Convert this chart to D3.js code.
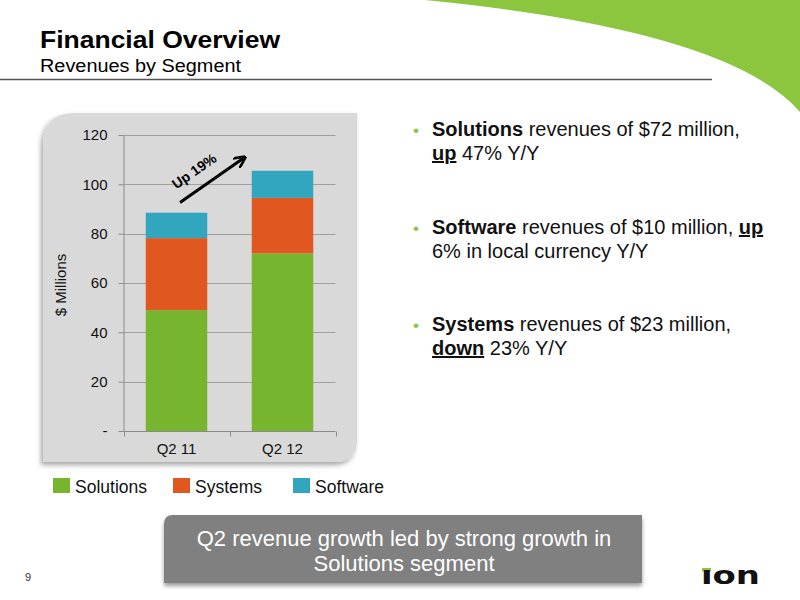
<!DOCTYPE html>
<html>
<head>
<meta charset="utf-8">
<script src="https://cdn.jsdelivr.net/npm/d3@7"></script>
<style>
  body { margin: 0; background: #fff; }
  svg { display: block; font-family: "Liberation Sans", Arial, sans-serif; }
</style>
</head>
<body>
<svg id="chart" width="800" height="600"></svg>
<script>
// ---- Data ----
const categories = ["Q2 11", "Q2 12"];
const segments = ["Solutions", "Systems", "Software"];
const solutions = [49, 72];
const systems = [29.2, 22.5];
const software = [10.3, 11];
const yTicks = [0, 20, 40, 60, 80, 100, 120];
const yTickLabels = ["-", "20", "40", "60", "80", "100", "120"];
const segColors = ["#77b52f", "#e0571f", "#32a6bf"];

const bullets = [
  [[{t: "Solutions", b: true}, {t: " revenues of $72 million,"}], [{t: "up", b: true, u: true}, {t: " 47% Y/Y"}]],
  [[{t: "Software", b: true}, {t: " revenues of $10 million, "}, {t: "up", b: true, u: true}], [{t: "6% in local currency Y/Y"}]],
  [[{t: "Systems", b: true}, {t: " revenues of $23 million,"}], [{t: "down", b: true, u: true}, {t: " 23% Y/Y"}]]
];

const svg = d3.select("#chart");
const defs = svg.append("defs");
const sh = defs.append("filter").attr("id", "shadow").attr("x", "-10%").attr("y", "-10%").attr("width", "125%").attr("height", "125%");
sh.append("feDropShadow").attr("dx", -2).attr("dy", 3).attr("stdDeviation", 2.5).attr("flood-color", "#000").attr("flood-opacity", 0.35);
const sh2 = defs.append("filter").attr("id", "shadow2").attr("x", "-10%").attr("y", "-10%").attr("width", "125%").attr("height", "140%");
sh2.append("feDropShadow").attr("dx", 0).attr("dy", 3).attr("stdDeviation", 2).attr("flood-color", "#000").attr("flood-opacity", 0.4);

// Green swoosh top right
svg.append("path")
  .attr("d", "M425,0 L800,0 L800,112 Q730,30 425,0 Z")
  .attr("fill", "#8cc63f");

// Title
svg.append("text").attr("x", 40).attr("y", 48).attr("font-size", 24).attr("font-weight", "bold")
  .attr("fill", "#000").attr("textLength", 240).attr("lengthAdjust", "spacingAndGlyphs").text("Financial Overview");
svg.append("text").attr("x", 40).attr("y", 72).attr("font-size", 18).attr("fill", "#000")
  .attr("textLength", 201).attr("lengthAdjust", "spacingAndGlyphs").text("Revenues by Segment");
svg.append("line").attr("x1", 0).attr("x2", 712).attr("y1", 79.5).attr("y2", 79.5)
  .attr("stroke", "#555").attr("stroke-width", 1.5);

// Gray panel with rounded top-left and bottom-right corners
const px0 = 43, py0 = 113, px1 = 357, py1 = 462, r1 = 32, r2 = 22;
svg.append("path")
  .attr("d", `M${px0},${py0 + r1} Q${px0},${py0} ${px0 + r1},${py0} L${px1},${py0} L${px1},${py1 - r2} Q${px1},${py1} ${px1 - r2},${py1} L${px0},${py1} Z`)
  .attr("fill", "#d9d9d9").attr("filter", "url(#shadow)");

// Scales
const x = d3.scaleBand().domain(categories).range([123.5, 335.5]).paddingInner(0.42).paddingOuter(0.21);
const y = d3.scaleLinear().domain([0, 120]).range([431, 135]);

// Gridlines
svg.append("g").selectAll("line").data(yTicks.filter(d => d > 0)).join("line")
  .attr("x1", 123.5).attr("x2", 335.5)
  .attr("y1", d => Math.round(y(d)) + 0.5).attr("y2", d => Math.round(y(d)) + 0.5)
  .attr("stroke", "#a0a0a0").attr("stroke-width", 1);

// Stacked bars
const table = categories.map((c, i) => ({cat: c, Solutions: solutions[i], Systems: systems[i], Software: software[i]}));
const stack = d3.stack().keys(segments)(table);
svg.append("g").selectAll("g").data(stack).join("g")
  .attr("fill", (d, i) => segColors[i])
  .selectAll("rect").data(d => d).join("rect")
  .attr("x", d => x(d.data.cat))
  .attr("width", x.bandwidth())
  .attr("y", d => y(d[1]))
  .attr("height", d => y(d[0]) - y(d[1]));

// Y axis
const yAxis = d3.axisLeft(y).tickValues(yTicks).tickFormat((d, i) => yTickLabels[i]).tickSize(5).tickSizeOuter(0);
const gy = svg.append("g").attr("transform", "translate(123.5,0)").call(yAxis);
gy.select(".domain").attr("stroke", "#8a8a8a");
gy.selectAll(".tick line").attr("stroke", "#8a8a8a");
gy.selectAll(".tick text").attr("font-size", 15).attr("fill", "#111").attr("x", -16).attr("font-family", "Liberation Sans, Arial, sans-serif");

// X axis
const xb = d3.scaleLinear().domain([0, 2]).range([123.5, 335.5]);
const gx = svg.append("g").attr("transform", "translate(0,431.5)");
gx.append("line").attr("x1", 123.5).attr("x2", 335.5).attr("stroke", "#8a8a8a");
gx.selectAll("line.tk").data([0, 1, 2]).join("line").attr("class", "tk")
  .attr("x1", d => Math.round(xb(d)) + 0.5).attr("x2", d => Math.round(xb(d)) + 0.5)
  .attr("y1", 0).attr("y2", 5).attr("stroke", "#8a8a8a");
gx.selectAll("text").data(categories).join("text")
  .attr("x", d => x(d) + x.bandwidth() / 2).attr("y", 22)
  .attr("text-anchor", "middle").attr("font-size", 15).attr("fill", "#111").text(d => d);

// Y label
svg.append("text").attr("transform", "translate(66,285) rotate(-90)")
  .attr("text-anchor", "middle").attr("font-size", 15).attr("fill", "#111").text("$ Millions");

// Arrow "Up 19%"
defs.append("marker").attr("id", "arrowhead").attr("viewBox", "0 0 10 10").attr("refX", 7).attr("refY", 5)
  .attr("markerWidth", 4).attr("markerHeight", 4).attr("orient", "auto")
  .append("path").attr("d", "M0,0 L10,5 L0,10").attr("fill", "none").attr("stroke", "#000").attr("stroke-width", 2.2);
svg.append("line").attr("x1", 180).attr("y1", 202.5).attr("x2", 243).attr("y2", 158.5)
  .attr("stroke", "#000").attr("stroke-width", 3).attr("marker-end", "url(#arrowhead)");
svg.append("text").attr("transform", "translate(197,175) rotate(-35)")
  .attr("text-anchor", "middle").attr("font-size", 14).attr("font-weight", "bold").attr("fill", "#000").text("Up 19%");

// Legend
const legX = [53, 173, 293];
const lg = svg.append("g").selectAll("g").data(segments).join("g")
  .attr("transform", (d, i) => `translate(${legX[i]},478)`);
lg.append("rect").attr("width", 17).attr("height", 15).attr("fill", (d, i) => segColors[i]);
lg.append("text").attr("x", 22).attr("y", 14.5).attr("font-size", 17.5).attr("fill", "#111").text(d => d);

// Bullets
const bulletY = [136, 234, 331];
const lineH = 24;
bullets.forEach((lines, bi) => {
  svg.append("text").attr("x", 413).attr("y", bulletY[bi]).attr("font-size", 17).attr("fill", "#8cc63f").text("•");
  lines.forEach((runs, li) => {
    const t = svg.append("text").attr("x", 432).attr("y", bulletY[bi] + li * lineH).attr("font-size", 20).attr("fill", "#111");
    runs.forEach(r => {
      t.append("tspan").text(r.t)
        .attr("font-weight", r.b ? "bold" : null)
        .attr("text-decoration", r.u ? "underline" : null);
    });
  });
});

// Bottom callout box
svg.append("path")
  .attr("d", "M164,524 Q164,515 173,515 L642,515 L642,583 L164,583 Z")
  .attr("fill", "#808080").attr("filter", "url(#shadow2)");
svg.append("text").attr("x", 404).attr("y", 546).attr("text-anchor", "middle").attr("font-size", 22).attr("fill", "#fff")
  .text("Q2 revenue growth led by strong growth in");
svg.append("text").attr("x", 404).attr("y", 571).attr("text-anchor", "middle").attr("font-size", 22).attr("fill", "#fff")
  .text("Solutions segment");

// Page number
svg.append("text").attr("x", 25).attr("y", 581).attr("font-size", 11).attr("fill", "#333").text("9");

// ion logo
svg.append("rect").attr("x", 702).attr("y", 568).attr("width", 9).attr("height", 3.5).attr("fill", "#8cc63f");
svg.append("text").attr("x", 701).attr("y", 584).attr("font-size", 24).attr("font-weight", "bold")
  .attr("fill", "#111").attr("textLength", 59).attr("lengthAdjust", "spacingAndGlyphs")
  .style("font-family", "DejaVu Sans, sans-serif").text("ıon");
</script>
</body>
</html>
